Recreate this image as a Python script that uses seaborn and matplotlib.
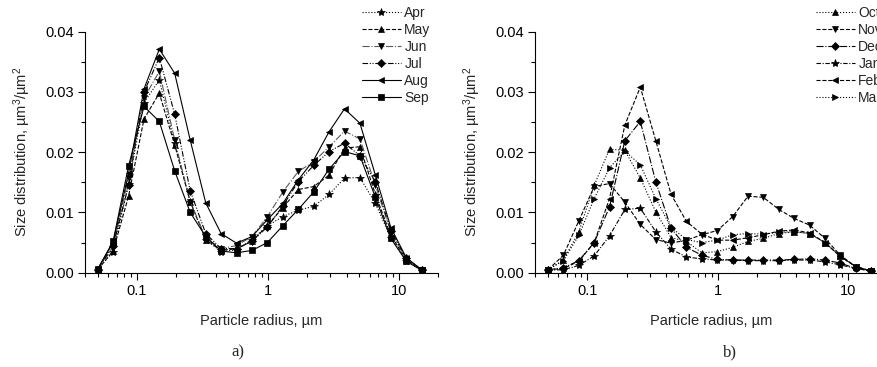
import numpy as np
import pandas as pd
import matplotlib
matplotlib.use("Agg")
import matplotlib.pyplot as plt
import matplotlib.ticker as mticker
import seaborn as sns

# ---------------- data ----------------
radius = [0.050, 0.0656, 0.0861, 0.113, 0.148, 0.194, 0.255, 0.335, 0.439, 0.576,
          0.756, 0.992, 1.302, 1.708, 2.241, 2.940, 3.857, 5.061, 6.641, 8.713,
          11.432, 15.000]

months_a = ["Apr", "May", "Jun", "Jul", "Aug", "Sep"]
apr = [0.0005, 0.0035, 0.0147, 0.0282, 0.0320, 0.0215, 0.0118, 0.0055, 0.0035, 0.0038,
       0.0055, 0.0078, 0.0093, 0.0104, 0.0110, 0.0130, 0.0157, 0.0158, 0.0115, 0.0058,
       0.0020, 0.0004]
may = [0.0005, 0.0036, 0.0127, 0.0255, 0.0298, 0.0212, 0.0118, 0.0055, 0.0037, 0.0040,
       0.0052, 0.0078, 0.0108, 0.0138, 0.0143, 0.0162, 0.0207, 0.0209, 0.0130, 0.0062,
       0.0022, 0.0004]
jun = [0.0005, 0.0042, 0.0158, 0.0290, 0.0334, 0.0220, 0.0118, 0.0058, 0.0040, 0.0045,
       0.0060, 0.0093, 0.0134, 0.0168, 0.0184, 0.0209, 0.0235, 0.0222, 0.0145, 0.0068,
       0.0023, 0.0005]
jul = [0.0005, 0.0045, 0.0145, 0.0300, 0.0357, 0.0263, 0.0136, 0.0065, 0.0040, 0.0040,
       0.0052, 0.0076, 0.0111, 0.0151, 0.0178, 0.0201, 0.0215, 0.0194, 0.0151, 0.0070,
       0.0024, 0.0005]
aug = [0.0006, 0.0050, 0.0165, 0.0305, 0.0371, 0.0331, 0.0220, 0.0116, 0.0065, 0.0049,
       0.0060, 0.0088, 0.0115, 0.0154, 0.0187, 0.0234, 0.0272, 0.0248, 0.0162, 0.0075,
       0.0025, 0.0005]
sep = [0.0006, 0.0052, 0.0177, 0.0276, 0.0251, 0.0169, 0.0100, 0.0060, 0.0036, 0.0033,
       0.0037, 0.0050, 0.0078, 0.0105, 0.0134, 0.0172, 0.0201, 0.0194, 0.0125, 0.0057,
       0.0019, 0.0004]

months_b = ["Oct", "Nov", "Dec", "Jan", "Feb", "Mar"]
oct_ = [0.0005, 0.0021, 0.0068, 0.0145, 0.0205, 0.0203, 0.0157, 0.0101, 0.0058, 0.0052,
        0.0033, 0.0035, 0.0042, 0.0052, 0.0057, 0.0065, 0.0068, 0.0065, 0.0050, 0.0027,
        0.0010, 0.0003]
nov = [0.0005, 0.0029, 0.0086, 0.0143, 0.0148, 0.0117, 0.0080, 0.0055, 0.0049, 0.0054,
       0.0063, 0.0070, 0.0093, 0.0127, 0.0125, 0.0105, 0.0090, 0.0079, 0.0057, 0.0029,
       0.0010, 0.0003]
dec = [0.0005, 0.0008, 0.0020, 0.0050, 0.0109, 0.0219, 0.0251, 0.0151, 0.0074, 0.0042,
       0.0029, 0.0022, 0.0021, 0.0021, 0.0021, 0.0021, 0.0022, 0.0023, 0.0021, 0.0016,
       0.0007, 0.0003]
jan = [0.0004, 0.0005, 0.0012, 0.0028, 0.0061, 0.0105, 0.0107, 0.0068, 0.0039, 0.0026,
       0.0023, 0.0021, 0.0021, 0.0020, 0.0020, 0.0020, 0.0021, 0.0021, 0.0018, 0.0013,
       0.0007, 0.0003]
feb = [0.0005, 0.0007, 0.0019, 0.0050, 0.0123, 0.0245, 0.0308, 0.0219, 0.0130, 0.0085,
       0.0064, 0.0054, 0.0054, 0.0058, 0.0063, 0.0069, 0.0071, 0.0066, 0.0050, 0.0027,
       0.0010, 0.0003]
mar = [0.0005, 0.0020, 0.0062, 0.0123, 0.0174, 0.0202, 0.0179, 0.0123, 0.0075, 0.0055,
       0.0050, 0.0054, 0.0063, 0.0065, 0.0064, 0.0067, 0.0068, 0.0065, 0.0050, 0.0027,
       0.0010, 0.0003]

series_a = [apr, may, jun, jul, aug, sep]
series_b = [oct_, nov, dec, jan, feb, mar]

y_ticks = [0.00, 0.01, 0.02, 0.03, 0.04]
y_tick_labels = ["0.00", "0.01", "0.02", "0.03", "0.04"]
x_ticks = [0.1, 1, 10]
x_tick_labels = ["0.1", "1", "10"]

# ---------------- styles ----------------
DDOT = (0, (5, 1.5, 1, 1.5, 1, 1.5))
styles_a = [
    dict(ls=":", marker="*", ms=6, color="black"),
    dict(ls="--", marker="^", ms=4.5, color="black"),
    dict(ls="-.", marker="v", ms=4.5, color="0.35"),
    dict(ls=DDOT, marker="D", ms=3.6, color="black"),
    dict(ls="-", marker="<", ms=4.5, color="black"),
    dict(ls="-", marker="s", ms=3.8, color="black"),
]
styles_b = [
    dict(ls=":", marker="^", ms=4.5, color="black"),
    dict(ls="--", marker="v", ms=4.5, color="black"),
    dict(ls="-.", marker="D", ms=3.6, color="black"),
    dict(ls=(0, (4, 1.5, 1, 1.5)), marker="*", ms=6, color="black"),
    dict(ls="--", marker="<", ms=4.5, color="black"),
    dict(ls=":", marker=">", ms=4.5, color="black"),
]

sns.set_style("ticks")
plt.rcParams["font.family"] = ["Liberation Sans", "DejaVu Sans"]
plt.rcParams["font.size"] = 10
plt.rcParams["mathtext.fontset"] = "custom"
plt.rcParams["mathtext.rm"] = "Liberation Sans"
plt.rcParams["mathtext.it"] = "Liberation Sans:italic"
plt.rcParams["mathtext.bf"] = "Liberation Sans:bold"

fig = plt.figure(figsize=(8.78, 3.67), dpi=100)
W, H = 878.0, 367.0
axA = fig.add_axes([85 / W, 1 - 272.7 / H, 353 / W, 241 / H])
axB = fig.add_axes([535.4 / W, 1 - 272.7 / H, 352 / W, 241 / H])


def draw(ax, names, series, styles):
    for name, vals, st in zip(names, series, styles):
        df = pd.DataFrame({"r": radius, "v": vals})
        sns.lineplot(data=df, x="r", y="v", ax=ax, sort=False, errorbar=None,
                     label=name, color=st["color"], linestyle=st["ls"],
                     linewidth=0.8, marker=st["marker"], markersize=st["ms"],
                     markerfacecolor="black", markeredgecolor="black",
                     markeredgewidth=0.5)
    ax.set_xscale("log")
    ax.set_xlim(0.04, 20)
    ax.set_ylim(0, 0.04)
    ax.set_xticks(x_ticks)
    ax.set_xticklabels(x_tick_labels)
    ax.xaxis.set_minor_locator(mticker.LogLocator(base=10, subs=np.arange(2, 10), numticks=20))
    ax.xaxis.set_minor_formatter(mticker.NullFormatter())
    ax.set_yticks(y_ticks)
    ax.set_yticklabels(y_tick_labels)
    ax.yaxis.set_minor_locator(mticker.MultipleLocator(0.005))
    ax.tick_params(which="major", direction="out", length=5, width=0.8, labelsize=10.5,
                   color="black", labelcolor="black", pad=3)
    ax.tick_params(which="minor", direction="out", length=3, width=0.8, color="black")
    for s in ["top", "right"]:
        ax.spines[s].set_visible(False)
    for s in ["left", "bottom"]:
        ax.spines[s].set_linewidth(0.8)
        ax.spines[s].set_color("black")
    ax.set_xlabel("Particle radius, µm", fontsize=10.5, labelpad=12)
    ax.set_ylabel("Size distribution, µm$^3$/µm$^2$", fontsize=10.5, labelpad=9)
    ax.grid(False)
    h, l = ax.get_legend_handles_labels()
    ax.get_legend().remove()
    return h, l


hA, lA = draw(axA, months_a, series_a, styles_a)
hB, lB = draw(axB, months_b, series_b, styles_b)

legkw = dict(loc="upper left", frameon=False, fontsize=10, handlelength=2.8,
             handletextpad=0.25, labelspacing=0.22, borderpad=0, borderaxespad=0)
fig.legend(hA, lA, bbox_to_anchor=(362 / W, 1 - 6 / H), **legkw)
fig.legend(hB, lB, bbox_to_anchor=(816 / W, 1 - 6 / H), **legkw)

fig.text(238 / W, 1 - 352 / H, "a)", ha="center", va="center", fontsize=12,
         family=["Liberation Serif", "DejaVu Serif"])
fig.text(730 / W, 1 - 352 / H, "b)", ha="center", va="center", fontsize=12,
         family=["Liberation Serif", "DejaVu Serif"])

fig.savefig("out.png", dpi=100)
